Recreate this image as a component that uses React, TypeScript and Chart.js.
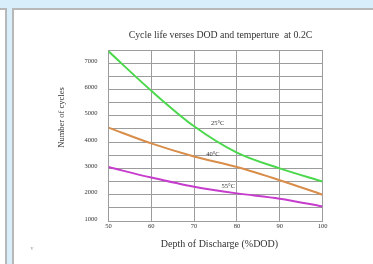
import React, { useEffect, useRef } from 'react';
import { Chart, registerables } from 'chart.js';

Chart.register(...registerables);

const chartTitle = 'Cycle life verses DOD and temperture  at 0.2C';
const xAxisTitle = 'Depth of Discharge (%DOD)';
const yAxisTitle = 'Number of cycles';

const dod = [50, 60, 70, 80, 90, 100];
const cycles25 = [7450, 5950, 4600, 3600, 3000, 2500];
const cycles40 = [4550, 3950, 3450, 3050, 2550, 2000];
const cycles55 = [3050, 2650, 2300, 2050, 1850, 1550];
const seriesLabels = ['25°C', '40°C', '55°C'];

const xTickLabels = ['50', '60', '70', '80', '90', '100'];
const yTickLabels = ['1000', '2000', '3000', '4000', '5000', '6000', '7000'];

const FONT = '"Liberation Serif", "Times New Roman", serif';

const textPlugin = {
  id: 'chartTexts',
  afterDraw(chart: any) {
    const { ctx, chartArea, scales } = chart;
    const xs = scales.x;
    const ys = scales.y;
    const cx = (chartArea.left + chartArea.right) / 2;
    ctx.save();
    ctx.fillStyle = '#333333';
    ctx.textAlign = 'center';
    ctx.textBaseline = 'middle';

    ctx.font = `9.8px ${FONT}`;
    ctx.fillText(chartTitle, cx + 5, chartArea.top - 15);

    ctx.font = `10px ${FONT}`;
    ctx.fillText(xAxisTitle, cx + 4, chartArea.bottom + 23);

    ctx.save();
    ctx.translate(chartArea.left - 46.5, 117.5);
    ctx.rotate(-Math.PI / 2);
    ctx.font = `8.5px ${FONT}`;
    ctx.fillText(yAxisTitle, 0, 0);
    ctx.restore();

    const anchors = [
      [75.5, 4715],
      [74.4, 3547],
      [78, 2330],
    ];
    ctx.font = `6.5px ${FONT}`;
    seriesLabels.forEach((lab, i) => {
      ctx.fillText(lab, xs.getPixelForValue(anchors[i][0]), ys.getPixelForValue(anchors[i][1]));
    });

    ctx.fillStyle = '#9a9a9a';
    ctx.font = `6px ${FONT}`;
    ctx.fillText('v', 32, 248);
    ctx.restore();
  },
};

export default function App() {
  const ref = useRef<HTMLCanvasElement | null>(null);

  useEffect(() => {
    if (!ref.current) return;
    const mk = (vals: number[]) => dod.map((x, i) => ({ x, y: vals[i] }));
    const gridColor = '#9c9c9c';
    const chart = new Chart(ref.current, {
      type: 'line',
      data: {
        datasets: [
          { label: seriesLabels[0], data: mk(cycles25), borderColor: '#4cd84c', borderWidth: 2 },
          { label: seriesLabels[1], data: mk(cycles40), borderColor: '#d88e4a', borderWidth: 2 },
          { label: seriesLabels[2], data: mk(cycles55), borderColor: '#c63ccc', borderWidth: 2 },
        ],
      },
      options: {
        animation: false,
        responsive: false,
        devicePixelRatio: 1,
        events: [],
        layout: { padding: { top: 50, right: 50.5, left: 0, bottom: 0 } },
        elements: {
          point: { radius: 0 },
          line: { cubicInterpolationMode: 'monotone', fill: false },
        },
        plugins: { legend: { display: false }, tooltip: { enabled: false }, title: { display: false } },
        scales: {
          x: {
            type: 'linear',
            min: 50,
            max: 100,
            afterFit: (s: any) => {
              s.height = 43;
            },
            ticks: {
              stepSize: 10,
              padding: 1,
              color: '#333',
              font: { family: FONT, size: 6.5 },
              callback: (v: any) => {
                const lab = String(v);
                return xTickLabels.includes(lab) ? lab : '';
              },
            },
            grid: { color: gridColor, lineWidth: 1, drawTicks: false },
            border: { display: true, color: gridColor, width: 1 },
          },
          y: {
            type: 'linear',
            min: 1000,
            max: 7500,
            afterFit: (s: any) => {
              s.width = 108.5;
            },
            ticks: {
              stepSize: 500,
              padding: 11,
              labelOffset: -2,
              autoSkip: false,
              color: '#333',
              font: { family: FONT, size: 6.5 },
              callback: (v: any) => {
                const lab = String(v);
                return yTickLabels.includes(lab) ? lab : '';
              },
            },
            grid: { color: gridColor, lineWidth: 1, drawTicks: false },
            border: { display: true, color: gridColor, width: 1 },
          },
        },
      },
      plugins: [textPlugin],
    } as any);
    return () => chart.destroy();
  }, []);

  return (
    <div
      style={{
        position: 'fixed',
        left: 0,
        top: 0,
        width: 373,
        height: 264,
        background: '#d8eefa',
        overflow: 'hidden',
      }}
    >
      <div
        style={{
          position: 'absolute',
          left: -10,
          top: 8,
          width: 15,
          height: 300,
          background: '#ffffff',
          borderRight: '2px solid #b8b8b8',
          borderTop: '2px solid #b8b8b8',
        }}
      />
      <div
        style={{
          position: 'absolute',
          left: 12,
          top: 8,
          width: 400,
          height: 300,
          background: '#ffffff',
          borderLeft: '2px solid #b8b8b8',
          borderTop: '2px solid #b8b8b8',
        }}
      />
      <canvas ref={ref} width={373} height={264} style={{ position: 'absolute', left: 0, top: 0 }} />
    </div>
  );
}
